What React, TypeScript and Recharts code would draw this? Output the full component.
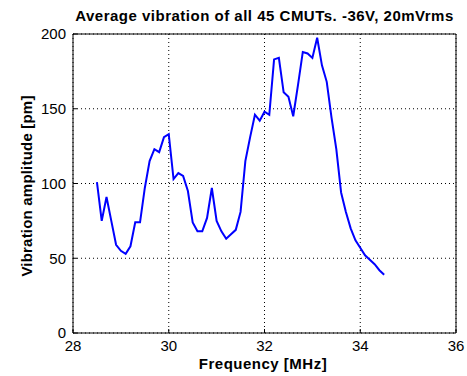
import React from "react"
import {
  LineChart,
  Line,
  XAxis,
  YAxis,
  CartesianGrid,
  ReferenceLine,
} from "recharts"

// frequency in MHz, sampled every 0.1 MHz
const FREQS = [
  28.5, 28.6, 28.7, 28.8, 28.9, 29.0, 29.1, 29.2, 29.3, 29.4,
  29.5, 29.6, 29.7, 29.8, 29.9, 30.0, 30.1, 30.2, 30.3, 30.4,
  30.5, 30.6, 30.7, 30.8, 30.9, 31.0, 31.1, 31.2, 31.3, 31.4,
  31.5, 31.6, 31.7, 31.8, 31.9, 32.0, 32.1, 32.2, 32.3, 32.4,
  32.5, 32.6, 32.7, 32.8, 32.9, 33.0, 33.1, 33.2, 33.3, 33.4,
  33.5, 33.6, 33.7, 33.8, 33.9, 34.0, 34.1, 34.2, 34.3, 34.4,
  34.5,
]

// average vibration amplitude in pm
const AMPLITUDE = [
  101, 75, 91, 75, 59, 55, 53, 58, 74, 74,
  97, 115, 123, 121, 131, 133, 103, 107, 105, 95,
  74, 68, 68, 77, 97, 75, 68, 63, 66, 69,
  81, 115, 131, 146, 142, 148, 146, 183, 184, 161,
  158, 145, 166, 188, 187, 184, 197.5, 179, 168, 144,
  123, 94, 81, 70, 62, 57, 52, 49, 46, 42,
  39,
]

const X_TICKS = [28, 30, 32, 34, 36]
const Y_TICKS = [0, 50, 100, 150, 200]

const data = FREQS.map((f, i) => ({ f, amp: AMPLITUDE[i] }))

const FONT = '"Liberation Sans", Arial, Helvetica, sans-serif'
const tickStyle = { fontSize: 15, fill: "#000", fontFamily: FONT }

const labelStyle: React.CSSProperties = {
  position: "absolute",
  fontSize: 15,
  fontWeight: "bold",
  color: "#000",
  whiteSpace: "nowrap",
}

export default function App() {
  return (
    <div
      style={{
        position: "absolute",
        left: 0,
        top: 0,
        width: 467,
        height: 376,
        background: "#fff",
        fontFamily: FONT,
      }}
    >
      <div style={{ ...labelStyle, left: 0, width: 529, top: 7, textAlign: "center", letterSpacing: 0.5 }}>
        Average vibration of all 45 CMUTs. -36V, 20mVrms
      </div>

      <LineChart
        width={467}
        height={376}
        data={data}
        margin={{ top: 34, right: 11, left: 33, bottom: 13 }}
      >
        <CartesianGrid stroke="#000" strokeDasharray="1 3" />
        <XAxis
          dataKey="f"
          type="number"
          domain={[28, 36]}
          ticks={X_TICKS}
          allowDataOverflow
          height={30}
          stroke="#000"
          tickSize={-4}
          tickMargin={11}
          tick={tickStyle}
        />
        <YAxis
          type="number"
          domain={[0, 200]}
          ticks={Y_TICKS}
          width={40}
          stroke="#000"
          tickSize={-4}
          tickMargin={11}
          tick={tickStyle}
        />
        <ReferenceLine y={200} stroke="#000" strokeDasharray="0" />
        <ReferenceLine x={36} stroke="#000" strokeDasharray="0" />
        <Line
          type="linear"
          dataKey="amp"
          stroke="#0000ff"
          strokeWidth={2}
          dot={false}
          isAnimationActive={false}
        />
      </LineChart>

      <div style={{ ...labelStyle, left: 0, width: 526, top: 355, textAlign: "center", letterSpacing: 0.5 }}>
        Frequency [MHz]
      </div>

      <div
        style={{
          ...labelStyle,
          left: 26,
          top: 186,
          letterSpacing: 0.2,
          transform: "translate(-50%, -50%) rotate(-90deg)",
        }}
      >
        Vibration amplitude [pm]
      </div>
    </div>
  )
}
